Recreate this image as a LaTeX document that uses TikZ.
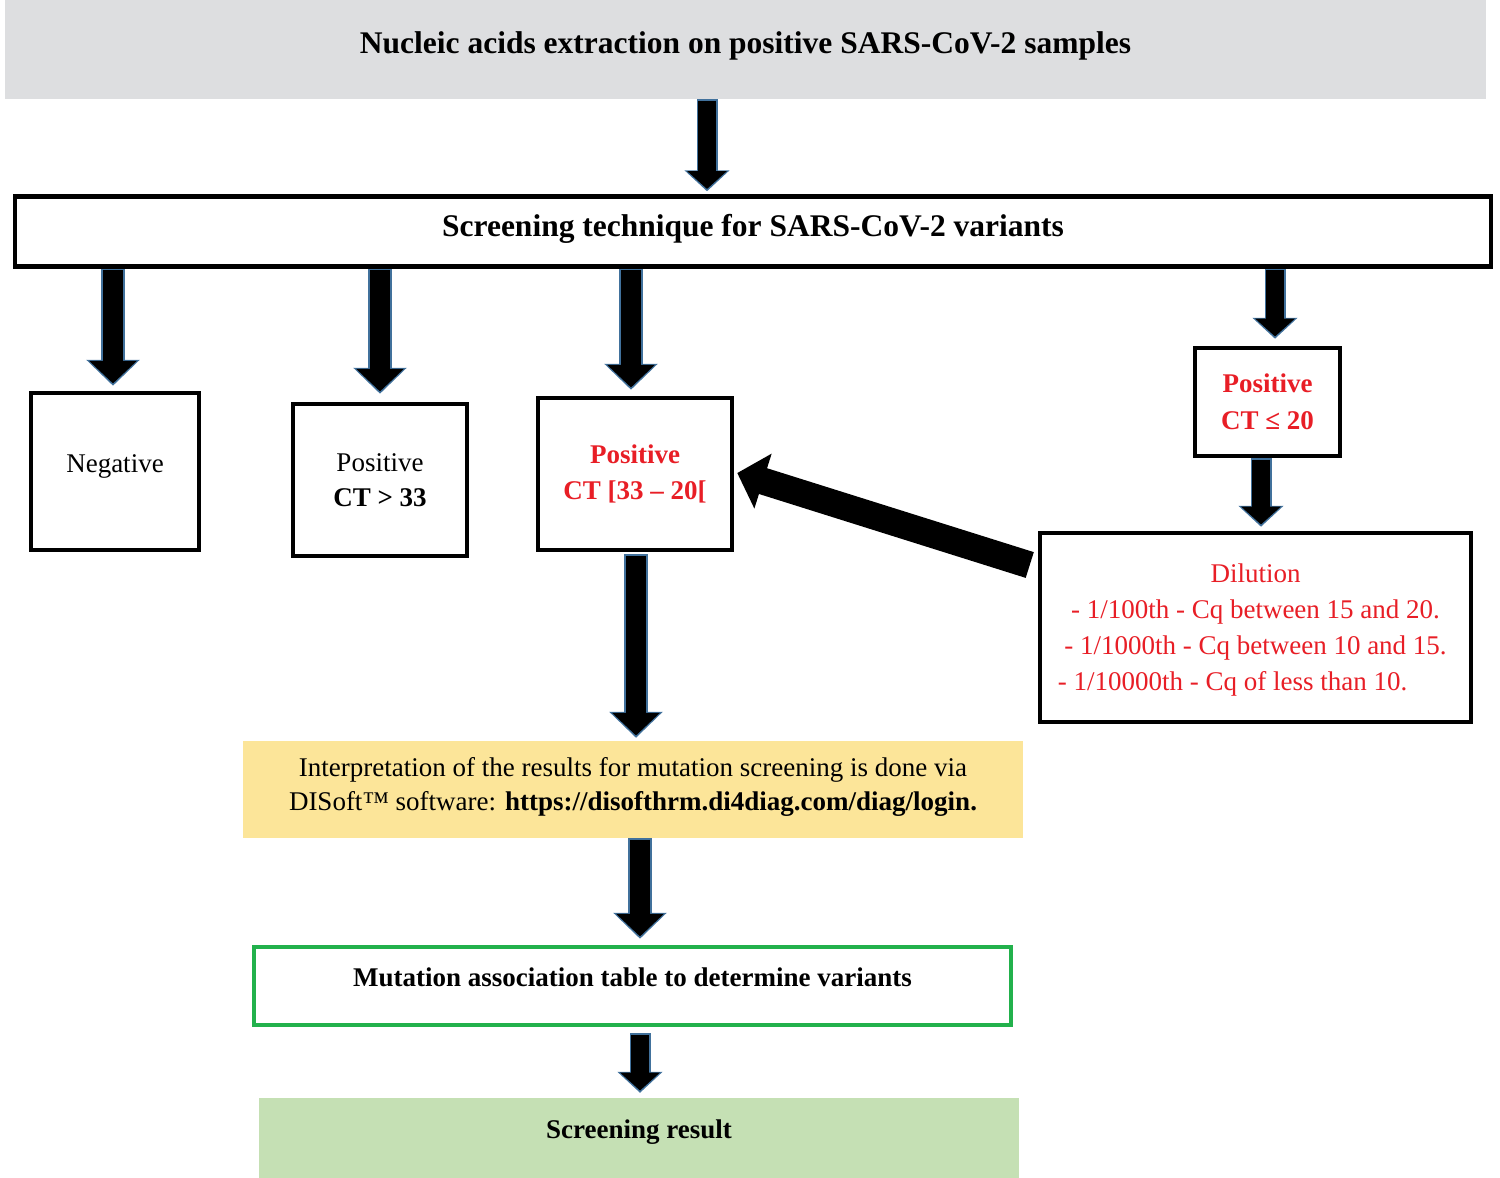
\documentclass[tikz,border=0pt]{standalone}
\usepackage{fontspec}
\setmainfont{Liberation Serif}
\usetikzlibrary{arrows.meta,calc}
\pgfdeclarelayer{background}
\pgfsetlayers{background,main}
\definecolor{topgray}{RGB}{221,222,224}
\definecolor{arrowblue}{RGB}{65,113,156}
\definecolor{txtred}{RGB}{232,30,38}
\definecolor{interpyellow}{RGB}{252,229,153}
\definecolor{mutgreen}{RGB}{34,177,76}
\definecolor{resgreen}{RGB}{197,224,180}
\tikzset{
  box/.style={draw=black, line width=4.5pt, fill=white, align=center, inner sep=0pt},
  plainbox/.style={draw=none, align=center, inner sep=0pt},
  redtxt/.style={text=txtred},
  tshift/.style={text height=#1, text depth=0pt},
  bigout/.style={draw=arrowblue, line width=24pt, -{Triangle[length=26pt,width=52pt]}},
  bigin/.style={draw=black, line width=20.8pt, -{Triangle[length=22.6pt,width=46.4pt]}, shorten >=2.3pt, shorten <=1.6pt},
  smallout/.style={draw=arrowblue, line width=21pt, -{Triangle[length=21pt,width=44pt]}},
  smallin/.style={draw=black, line width=17.8pt, -{Triangle[length=17.8pt,width=38.6pt]}, shorten >=2.3pt, shorten <=1.6pt},
  diag/.style={draw=black, line width=27pt, -{Triangle[length=27pt,width=56pt]}},
}
\newcommand\barrow[3][big]{\draw[#1out] #2 -- #3; \draw[#1in] #2 -- #3;}
\newcommand\liftink[2]{\raisebox{#1}[\height][\depth]{#2}}
\begin{document}
\begin{tikzpicture}[x=1pt,y=-1pt,font=\fontsize{27}{35}\selectfont]
\useasboundingbox (0,0) rectangle (1500,1178);
% nodes
\node[plainbox, fill=topgray, minimum width=1481pt, minimum height=99pt, tshift=8.8pt, font=\fontsize{31.5}{38}\selectfont\bfseries] (top) at (745.5,49.5) {Nucleic acids extraction on positive SARS-CoV-2 samples};
\node[box, minimum width=1476pt, minimum height=70pt, tshift=10.8pt, font=\fontsize{31.5}{38}\selectfont\bfseries] (screen) at (753,231.5) {Screening technique for SARS-CoV-2 variants};
\node[box, minimum width=168pt, minimum height=157pt, tshift=1.6pt] (neg) at (115,471.5) {Negative};
\node[box, minimum width=174pt, minimum height=152pt] (pos1) at (380,480) {Positive\\ \bfseries CT > 33};
\node[box, minimum width=194pt, minimum height=152pt, redtxt, font=\fontsize{27}{36}\selectfont\bfseries] (pos2) at (635,474) {Positive\\ CT [33 – 20[};
\node[box, minimum width=145pt, minimum height=108pt, redtxt, font=\fontsize{27}{35}\selectfont\bfseries] (pos3) at (1267.5,402) {\raisebox{1.5pt}{Positive}\\ CT ≤ 20};
\node[box, minimum width=431pt, minimum height=189pt, redtxt, font=\fontsize{27}{36}\selectfont] (dil) at (1255.5,627.5) {\liftink{-1.5pt}{\begin{tabular}{@{}c@{}}\liftink{-0.5pt}{Dilution}\\ - 1/100th - Cq between 15 and 20.\\ - 1/1000th - Cq between 10 and 15.\\ - 1/10000th - Cq of less than 10.\hspace*{46pt}\end{tabular}}};
\node[plainbox, fill=interpyellow, minimum width=780pt, minimum height=97pt, font=\fontsize{27}{34}\selectfont] (interp) at (633,789.5) {\liftink{3pt}{\begin{tabular}{@{}c@{}}Interpretation of the results for mutation screening is done via\\ DISoft™ software: \textbf{https://disofthrm.di4diag.com/diag/login.}\end{tabular}}};
\node[box, draw=mutgreen, minimum width=757pt, minimum height=78pt, tshift=0.6pt] (mut) at (632.5,986) {\bfseries Mutation association table to determine variants};
\node[plainbox, fill=resgreen, minimum width=760pt, minimum height=80pt, tshift=0.6pt] (res) at (639,1138) {\bfseries Screening result};
% connectors
\coordinate (c1) at ([xshift=-38.5pt]top.south);
\coordinate (c2) at ([xshift=-2pt]screen.south -| neg);
\coordinate (c4) at ([xshift=-4pt]screen.south -| pos2);
\coordinate (c5) at ([xshift=7.5pt]screen.south -| pos3);
\coordinate (c6) at ([xshift=-6.5pt]pos3.south);
\coordinate (c7) at ([yshift=-2pt,xshift=1pt]pos2.south);
\coordinate (c8) at ([xshift=7pt]interp.south);
\coordinate (c9) at ([xshift=7.5pt,yshift=-6pt]mut.south);
\coordinate (dtail) at ([xshift=-8pt,yshift=62.5pt]dil.west);
\begin{pgfonlayer}{background}
\barrow[small]{(c1)}{([yshift=3pt]c1 |- screen.north)}
\barrow[big]{(c2)}{([yshift=5pt]c2 |- neg.north)}
\barrow[big]{(screen.south -| pos1)}{([yshift=8pt]pos1.north)}
\barrow[big]{(c4)}{([yshift=6pt]c4 |- pos2.north)}
\barrow[small]{(c5)}{([yshift=7pt]c5 |- pos3.north)}
\barrow[small]{(c6)}{([yshift=4pt]c6 |- dil.north)}
\barrow[big]{(c7)}{([yshift=3pt]c7 |- interp.north)}
\barrow[big]{(c8)}{([yshift=6pt]c8 |- mut.north)}
\barrow[small]{(c9)}{([yshift=5pt]c9 |- res.north)}
\draw[diag] (dtail) -- ([xshift=3pt,yshift=1pt]pos2.east);
\end{pgfonlayer}
\end{tikzpicture}
\end{document}
